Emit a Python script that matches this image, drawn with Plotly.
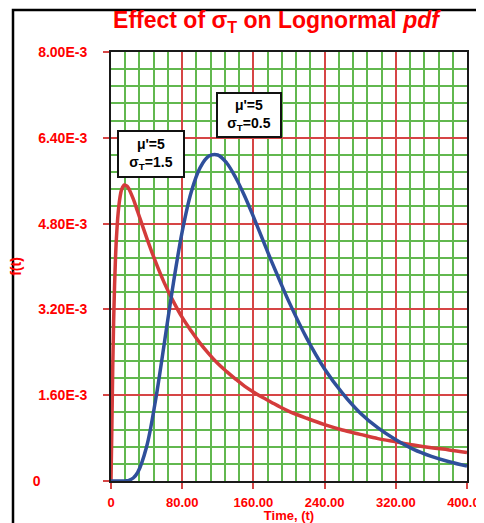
import plotly.graph_objects as go

# Data
time_t = [0, 1, 2, 3, 4, 5, 6, 8, 10, 12, 15, 18, 20, 25, 30, 40, 50, 60, 70, 80, 90,
          100, 110, 120, 130, 140, 150, 160, 170, 180, 190, 200, 220, 240, 260, 280,
          300, 320, 340, 360, 380, 400]
pdf_sigma_15 = [0, 0.00103, 0.00216, 0.00301, 0.00365, 0.00413, 0.00450, 0.00499, 0.00528,
                0.00544, 0.00552, 0.00550, 0.00545, 0.00526, 0.00502, 0.00454, 0.00409,
                0.00369, 0.00335, 0.00305, 0.00280, 0.00257, 0.00237, 0.00219, 0.00204,
                0.00190, 0.00177, 0.00166, 0.00156, 0.00147, 0.00138, 0.00130, 0.00117,
                0.00105, 0.00095, 0.00087, 0.00079, 0.00073, 0.00067, 0.00062, 0.00058,
                0.00053]
pdf_sigma_05 = [0, 0, 0, 0, 0, 0, 0, 0, 0, 0, 0.0000015, 0.000006, 0.000013, 0.000056,
                0.00016, 0.00064, 0.00150, 0.00258, 0.00368, 0.00465, 0.00538, 0.00584,
                0.00606, 0.00608, 0.00593, 0.00566, 0.00532, 0.00493, 0.00452, 0.00411,
                0.00372, 0.00334, 0.00266, 0.00209, 0.00164, 0.00127, 0.00099, 0.00077,
                0.00059, 0.00046, 0.00036, 0.00028]

x_tickvals = [0, 80, 160, 240, 320, 400]
x_ticktext = ["0", "80.00", "160.00", "240.00", "320.00", "400.00"]
y_tickvals = [0, 0.0016, 0.0032, 0.0048, 0.0064, 0.008]
y_ticktext = ["0" + "\u00a0" * 12, "1.60E-3", "3.20E-3", "4.80E-3", "6.40E-3", "8.00E-3"]

RED = "#d43b3b"
BLUE = "#2f4f9b"
GRID_RED = "#d64545"
GRID_GREEN = "#62b84f"
FONT = "Liberation Sans"

fig = go.Figure()
fig.add_trace(go.Scatter(x=time_t, y=pdf_sigma_15, mode="lines",
                         line=dict(color=RED, width=3.5, shape="spline"),
                         showlegend=False))
fig.add_trace(go.Scatter(x=time_t, y=pdf_sigma_05, mode="lines",
                         line=dict(color=BLUE, width=3.5, shape="spline"),
                         showlegend=False))

fig.update_layout(
    width=476, height=515,
    margin=dict(l=103, r=17, t=44, b=42, autoexpand=False),
    paper_bgcolor="white", plot_bgcolor="white",
    font=dict(family=FONT, color="red", size=13, weight="bold"),
    title=dict(text="Effect of σ<sub>T</sub> on Lognormal <i>pdf</i>",
               x=0.563, xanchor="center", y=0.977, yanchor="middle",
               font=dict(family=FONT, size=23, color="#ff0000", weight="bold")),
    xaxis=dict(range=[0, 400], tickvals=x_tickvals, ticktext=x_ticktext,
               automargin=False, ticklabeloverflow="allow",
               showgrid=True, gridcolor=GRID_RED, gridwidth=2,
               minor=dict(dtick=16, showgrid=True, gridcolor=GRID_GREEN, gridwidth=2,
                          tick0=0),
               ticks="outside", ticklen=6, tickwidth=2, tickcolor=GRID_RED,
               showline=True, linecolor="#1a1a1a", linewidth=2, mirror=True,
               zeroline=False, ticklabelstandoff=2,
               tickfont=dict(size=13, color="#ff0000", family=FONT, weight="bold"),
               title=dict(text="Time, (t)", standoff=0,
                          font=dict(size=13, color="#ff0000", family=FONT, weight="bold"))),
    yaxis=dict(range=[0, 0.008], tickvals=y_tickvals, ticktext=y_ticktext,
               automargin=False,
               showgrid=True, gridcolor=GRID_RED, gridwidth=2,
               minor=dict(dtick=0.00032, showgrid=True, gridcolor=GRID_GREEN, gridwidth=2,
                          tick0=0),
               ticks="outside", ticklen=6, tickwidth=2, tickcolor=GRID_RED,
               showline=True, linecolor="#1a1a1a", linewidth=2, mirror=True,
               zeroline=False, ticklabelstandoff=13,
               tickfont=dict(size=14, color="#ff0000", family=FONT, weight="bold"),
               title=dict(text="f(t)", standoff=9,
                          font=dict(size=14, color="#ff0000", family=FONT, weight="bold"))),
)

fig.add_annotation(x=45, y=0.00609, xref="x", yref="y", showarrow=False,
                   text="μ'=5<br>σ<sub>T</sub>=1.5", align="center",
                   bgcolor="white", bordercolor="#111111", borderwidth=2,
                   width=62, height=42,
                   font=dict(family=FONT, size=14, color="black", weight="bold"))
fig.add_annotation(x=155, y=0.00682, xref="x", yref="y", showarrow=False,
                   text="μ'=5<br>σ<sub>T</sub>=0.5", align="center",
                   bgcolor="white", bordercolor="#111111", borderwidth=2,
                   width=60, height=40,
                   font=dict(family=FONT, size=14, color="black", weight="bold"))

# outer frame of the figure
fig.add_shape(type="rect", xref="paper", yref="paper",
              x0=(13 - 111) / 356, x1=1.3, y0=-0.3, y1=(481 - 10) / 429,
              line=dict(color="black", width=2.5), fillcolor="rgba(0,0,0,0)", layer="below")

fig.write_html("out.html")
